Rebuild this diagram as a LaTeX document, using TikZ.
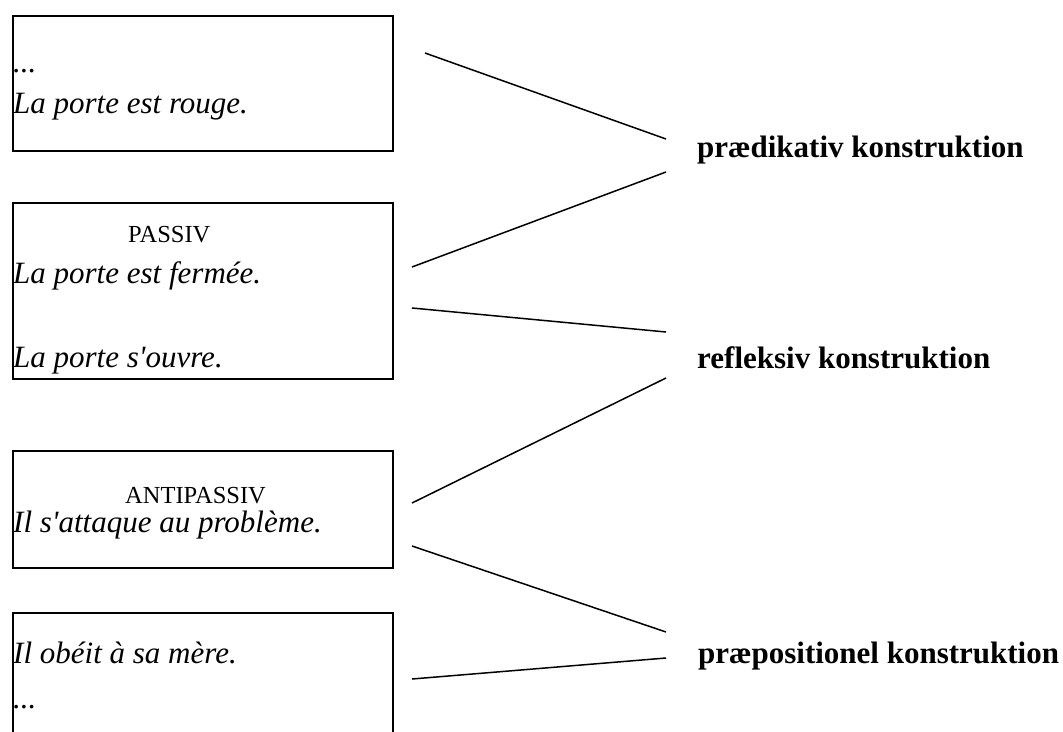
\documentclass[tikz,border=0pt]{standalone}
\usepackage{fontspec}
\setmainfont{Liberation Serif}
\begin{document}
\begin{tikzpicture}[x=1pt,y=-1pt,
  box/.style={draw,line width=1.5pt,anchor=north west,inner sep=0pt},
  ex/.style={anchor=base west,inner sep=0pt,font=\fontsize{31}{37}\selectfont\itshape},
  tag/.style={anchor=base west,inner sep=0pt,font=\fontsize{24.5}{29}\selectfont},
  lab/.style={anchor=base west,inner sep=0pt,font=\fontsize{31}{37}\selectfont\bfseries},
  link/.style={line width=1.5pt}]
\clip (0,0) rectangle (1063,731);
% boxes
\node[box,minimum width=380pt,minimum height=135pt] (b1) at (12,15) {};
\node[box,minimum width=380pt,minimum height=176pt] (b2) at (12,202) {};
\node[box,minimum width=380pt,minimum height=117pt] (b3) at (12,450) {};
\node[box,minimum width=380pt,minimum height=140pt] (b4) at (12,612) {};
% texts
\node[ex] (t1a) at (13,72) {...};
\node[ex] (t1b) at (13,113) {La porte est rouge.};
\node[tag] (t2a) at (128,242) {PASSIV};
\node[ex] (t2b) at (13,283) {La porte est fermée.};
\node[ex] (t2c) at (13,367) {La porte s\textquotesingle ouvre.};
\node[tag] (t3a) at (125,503) {ANTIPASSIV};
\node[ex] (t3b) at (13,532) {Il s\textquotesingle attaque au problème.};
\node[ex] (t4a) at (13,663) {Il obéit à sa mère.};
\node[ex] (t4b) at (13,708) {...};
% labels
\node[lab] (pred) at (697,157) {prædikativ konstruktion};
\node[lab] (refl) at (697,368) {refleksiv konstruktion};
\node[lab] (prep) at (698,663) {præpositionel konstruktion};
% connector ends
\coordinate (s1) at (425,53);  \coordinate (e1) at (666,139);
\coordinate (s2) at (412,267); \coordinate (e2) at (666,172);
\coordinate (s3) at (412,308); \coordinate (e3) at (666,332);
\coordinate (s4) at (412,503); \coordinate (e4) at (666,378);
\coordinate (s5) at (412,546); \coordinate (e5) at (666,632);
\coordinate (s6) at (412,679); \coordinate (e6) at (666,658);
\draw[link] (s1) -- (e1);
\draw[link] (s2) -- (e2);
\draw[link] (s3) -- (e3);
\draw[link] (s4) -- (e4);
\draw[link] (s5) -- (e5);
\draw[link] (s6) -- (e6);
\end{tikzpicture}
\end{document}
